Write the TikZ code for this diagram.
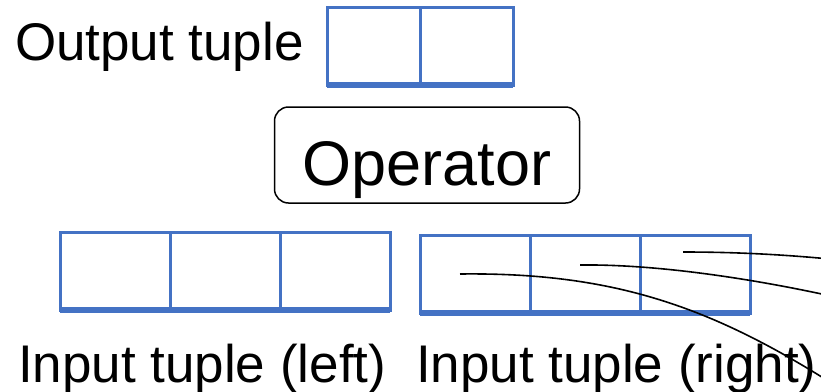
\documentclass[tikz,border=0pt]{standalone}
\usepackage{fontspec}
\setmainfont{Liberation Sans}
\usepackage{tikz}
\usetikzlibrary{calc, positioning}
\definecolor{cellblue}{RGB}{68,114,196}
\tikzstyle{cell} =[draw=cellblue, line width=3pt, minimum width=110pt, minimum height=78pt, inner sep=0pt, outer sep=0pt]
\tikzstyle{cellbase} =[cellblue, line width=5.5pt]
\tikzstyle{caption} =[inner sep=0pt, outer sep=0pt, font=\fontsize{53}{60}\selectfont]
\tikzstyle{operator} =[draw, line width=1.5pt, rounded corners=14pt, minimum width=305pt, minimum height=96pt, text height=60pt, text depth=0pt, align=center, font=\fontsize{63}{70}\selectfont]
\tikzstyle{wire} =[black, line width=1.6pt]

\begin{document}
\begin{tikzpicture}[x=1pt, y=-1pt]
        \useasboundingbox (0,0) rectangle (821,391);

        % Output
        \node[caption, anchor=base west] (outlabel) at (15,60) {Output tuple};
        \foreach \i in {1,2} {
                \node[cell, minimum width=93pt] (out\i) at ($(327,46)+(93*\i-46.5,0)$) {};
            }
        \draw[cellbase] (out1.south west) -- (out2.south east);

        % Operator
        \node[operator] (op) at (427,155) {Operator};

        %% Input cells
        \foreach \i in {1,2,3} {
                \node[cell] (left\i) at ($(60,271)+(110*\i-55,0)$) {};
                \node[cell] (right\i) at ($(420,274)+(110*\i-55,0)$) {};
            }
        \draw[cellbase] (left1.south west) -- (left3.south east);
        \draw[cellbase] (right1.south west) -- (right3.south east);

        % Labels
        \node[caption, anchor=base west] (leftlabel) at (18,382) {Input tuple (left)};
        \node[caption, anchor=base west] (rightlabel) at (416,382) {Input tuple (right)};

        %% Wires leaving the right tuple
        \coordinate (exit1) at (850,395);
        \coordinate (exit2) at (840,298);
        \coordinate (exit3) at (840,260);
        \draw[wire] ($(right1.center)+(-15,0)$) .. controls (620,272) and (720,310) .. (exit1);
        \draw[wire] ($(right2.center)+(-5,-9)$) .. controls (660,264) and (760,280) .. (exit2);
        \draw[wire] ($(right3.center)+(-12,-22)$) .. controls (740,252) and (790,255) .. (exit3);

    \end{tikzpicture}
\end{document}
